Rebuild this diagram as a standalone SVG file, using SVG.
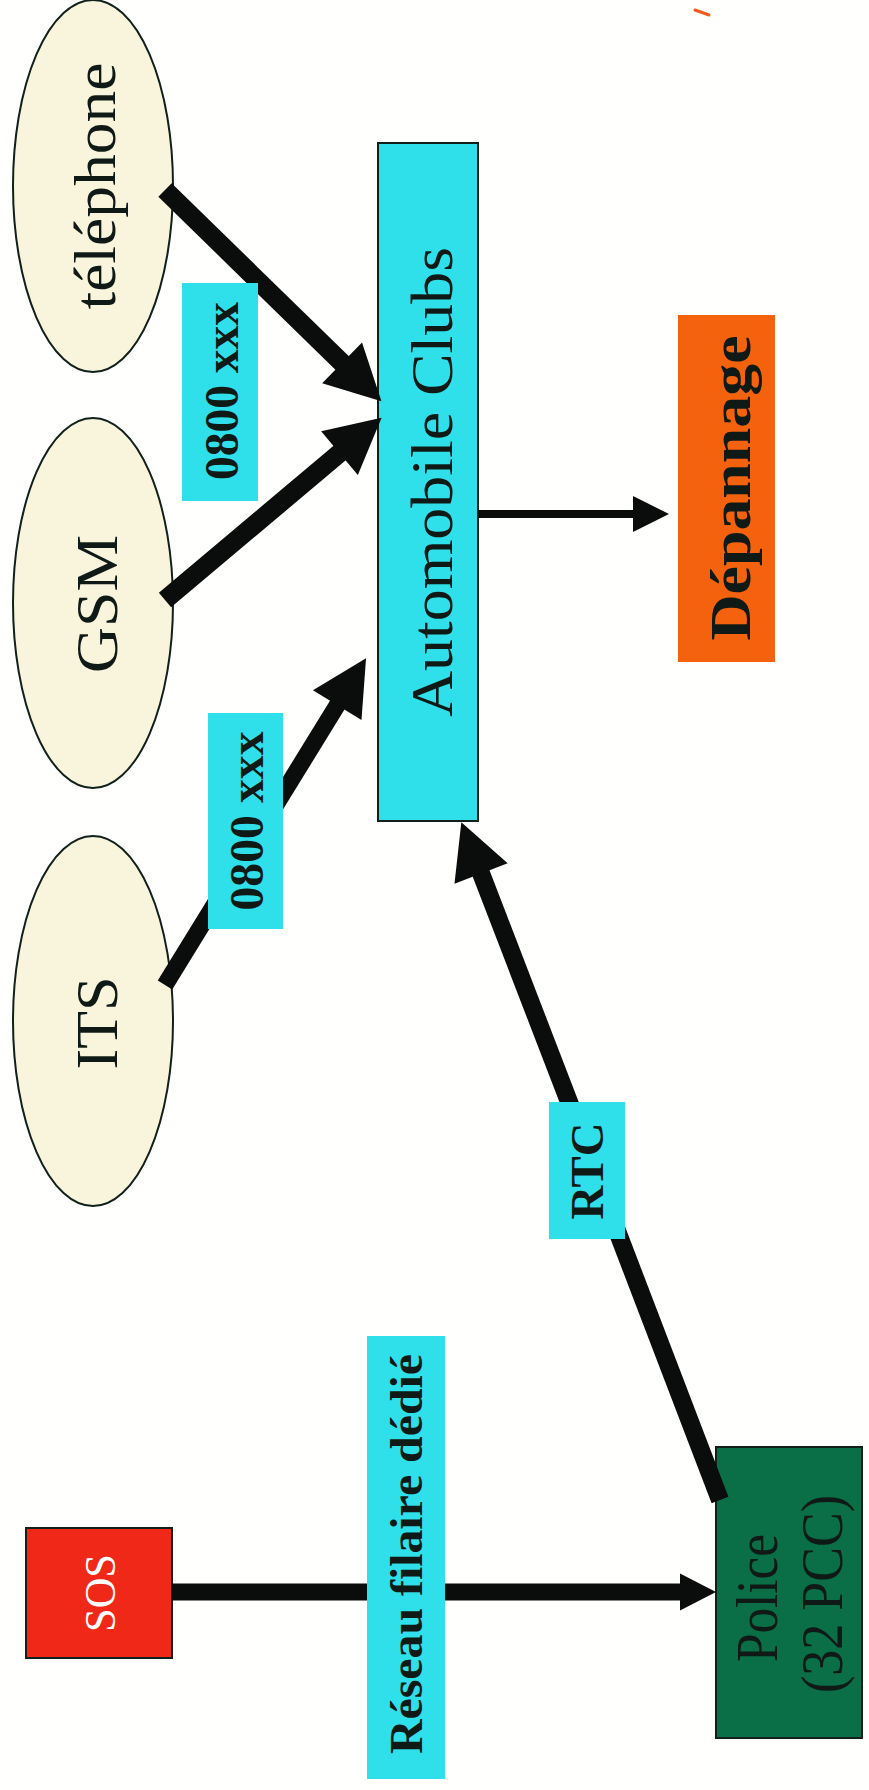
<svg xmlns="http://www.w3.org/2000/svg" width="869" height="1790" viewBox="0 0 869 1790">
  <style>
    .serif { font-family: "Liberation Serif", "Times New Roman", serif; }
    .node-text { font-size: 60px; fill: #0f1a16; text-anchor: middle; }
    .label-text { font-weight: bold; fill: #0f1a16; text-anchor: middle; }
    .oval { fill: #f8f5dc; stroke: #10201b; stroke-width: 2; }
    .cyan { fill: #2fdfe9; }
    .edge { fill: none; stroke: #0a0d0c; stroke-linecap: butt; }
    .thick { stroke-width: 19; }
  </style>
  <defs>
    <marker id="head-big" markerUnits="userSpaceOnUse" markerWidth="55" markerHeight="57" refX="20" refY="28.5" orient="auto" overflow="visible">
      <path d="M0,0 L55,28.5 L0,57 Z" fill="#0a0d0c"/>
    </marker>
    <marker id="head-mid" markerUnits="userSpaceOnUse" markerWidth="36" markerHeight="37" refX="10" refY="18.5" orient="auto" overflow="visible">
      <path d="M0,0 L36,18.5 L0,37 Z" fill="#0a0d0c"/>
    </marker>
    <marker id="head-small" markerUnits="userSpaceOnUse" markerWidth="36" markerHeight="36" refX="8" refY="18" orient="auto" overflow="visible">
      <path d="M0,0 L36,18 L0,36 Z" fill="#0a0d0c"/>
    </marker>
  </defs>

  <rect x="0" y="0" width="869" height="1790" fill="#fffffd"/>

  <!-- stray pen mark, top right -->
  <line x1="695" y1="10" x2="709" y2="15" stroke="#f05a1a" stroke-width="3" stroke-linecap="round"/>

  <!-- nodes -->
  <g id="node-telephone">
    <ellipse class="oval" cx="93" cy="186" rx="80" ry="186"/>
    <text class="serif node-text" x="115" y="186" font-size="56" textLength="247" lengthAdjust="spacingAndGlyphs" transform="rotate(-90 115 186)">téléphone</text>
  </g>
  <g id="node-gsm">
    <ellipse class="oval" cx="93" cy="603" rx="80" ry="185"/>
    <text class="serif node-text" x="117" y="604" font-size="66" textLength="138" lengthAdjust="spacingAndGlyphs" transform="rotate(-90 117 604)">GSM</text>
  </g>
  <g id="node-its">
    <ellipse class="oval" cx="93" cy="1021" rx="80" ry="185"/>
    <text class="serif node-text" x="117" y="1023" font-size="66" textLength="93" lengthAdjust="spacingAndGlyphs" transform="rotate(-90 117 1023)">ITS</text>
  </g>
  <g id="node-automobile-clubs">
    <rect x="378" y="143" width="100" height="678" fill="#2fdfe9" stroke="#10201b" stroke-width="2"/>
    <text class="serif node-text" x="452" y="482" font-size="65" textLength="470" lengthAdjust="spacingAndGlyphs" transform="rotate(-90 452 482)">Automobile Clubs</text>
  </g>
  <g id="node-depannage">
    <rect x="678" y="315" width="97" height="347" fill="#f5620e"/>
    <text class="serif label-text" x="750" y="488" font-size="58" textLength="305" lengthAdjust="spacingAndGlyphs" transform="rotate(-90 750 488)">Dépannage</text>
  </g>
  <g id="node-sos">
    <rect x="26" y="1528" width="146" height="130" fill="#f02818" stroke="#10201b" stroke-width="2"/>
    <text class="serif" x="115" y="1593" font-size="45" fill="#ffffff" text-anchor="middle" textLength="78" lengthAdjust="spacingAndGlyphs" transform="rotate(-90 115 1593)">SOS</text>
  </g>
  <g id="node-police">
    <rect x="716" y="1447" width="146" height="291" fill="#0a6e47" stroke="#10201b" stroke-width="2"/>
    <text class="serif node-text" x="777" y="1598" font-size="53" textLength="128" lengthAdjust="spacingAndGlyphs" transform="rotate(-90 777 1598)">Police</text>
    <text class="serif node-text" x="842" y="1594" font-size="53" textLength="198" lengthAdjust="spacingAndGlyphs" transform="rotate(-90 842 1594)">(32 PCC)</text>
  </g>

  <!-- connectors -->
  <g id="connectors">
    <line class="edge thick" x1="165" y1="190" x2="356.4" y2="376.9" marker-end="url(#head-big)"/>
    <line class="edge thick" x1="165" y1="600" x2="354.8" y2="440.3" marker-end="url(#head-big)"/>
    <line class="edge" stroke-width="17" x1="165" y1="985" x2="347.7" y2="688.1" marker-end="url(#head-big)"/>
    <line class="edge" stroke-width="18" x1="720" y1="1500" x2="611" y2="1215"/>
    <line class="edge" stroke-width="18" x1="576" y1="1120" x2="473.9" y2="854.8" marker-end="url(#head-big)"/>
    <line class="edge" stroke-width="17" x1="172" y1="1592" x2="690" y2="1592" marker-end="url(#head-mid)"/>
    <line class="edge" stroke-width="8" x1="478" y1="514" x2="641" y2="514" marker-end="url(#head-small)"/>
  </g>

  <!-- connector labels -->
  <g id="edge-labels">
    <g id="label-0800-phone">
      <rect class="cyan" x="182" y="283" width="76" height="218"/>
      <text class="serif label-text" x="238" y="391" font-size="48" textLength="178" lengthAdjust="spacingAndGlyphs" transform="rotate(-90 238 391)">0800 xxx</text>
    </g>
    <g id="label-0800-its">
      <rect class="cyan" x="208" y="713" width="75" height="216"/>
      <text class="serif label-text" x="263" y="821" font-size="48" textLength="179" lengthAdjust="spacingAndGlyphs" transform="rotate(-90 263 821)">0800 xxx</text>
    </g>
    <g id="label-rtc">
      <rect class="cyan" x="549" y="1102" width="76" height="137"/>
      <text class="serif label-text" x="603" y="1171" font-size="46" textLength="97" lengthAdjust="spacingAndGlyphs" transform="rotate(-90 603 1171)">RTC</text>
    </g>
    <g id="label-reseau">
      <rect class="cyan" x="367" y="1336" width="78" height="443"/>
      <text class="serif label-text" x="422" y="1554" font-size="47" textLength="400" lengthAdjust="spacingAndGlyphs" transform="rotate(-90 422 1554)">Réseau filaire dédié</text>
    </g>
  </g>
</svg>
